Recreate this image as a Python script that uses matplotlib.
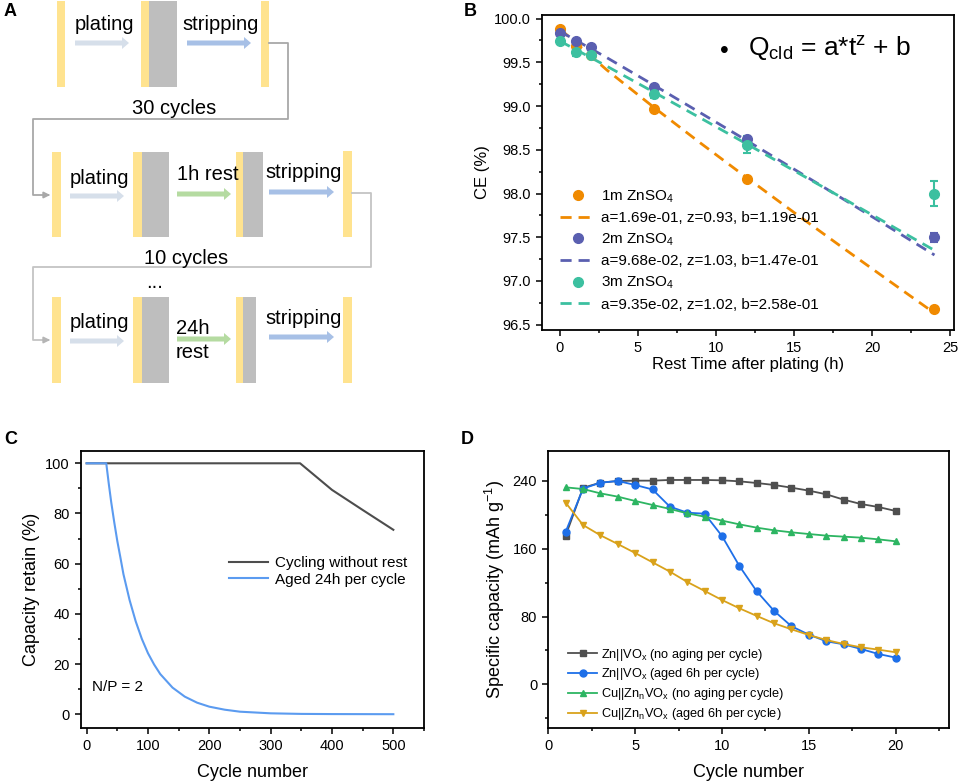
import numpy as np
import matplotlib
matplotlib.use("Agg")
from matplotlib import pyplot as plt
from matplotlib.patches import Rectangle, FancyArrow
from matplotlib.lines import Line2D
from matplotlib.ticker import MultipleLocator

plt.rcParams['font.family'] = ['Liberation Sans', 'DejaVu Sans']
plt.rcParams['mathtext.fontset'] = 'custom'
plt.rcParams['mathtext.rm'] = 'Liberation Sans'
plt.rcParams['mathtext.it'] = 'Liberation Sans'

# ---- panel B data ----
rest_t = [0, 1, 2, 6, 12, 24]
ce_1m = [99.88, 99.69, 99.58, 98.97, 98.17, 96.68]
ce_2m = [99.84, 99.74, 99.68, 99.22, 98.62, 97.50]
ce_3m = [99.74, 99.62, 99.58, 99.14, 98.56, 98.00]
err_1m = [0.02, 0.02, 0.02, 0.02, 0.02, 0.02]
err_2m = [0.02, 0.02, 0.02, 0.02, 0.03, 0.05]
err_3m = [0.02, 0.05, 0.02, 0.05, 0.10, 0.14]
fit_t = [0, 3, 6, 9, 12, 15, 18, 21, 24]
fit_1m = [99.881, 99.412, 98.987, 98.577, 98.177, 97.783, 97.396, 97.013, 96.633]
fit_2m = [99.853, 99.553, 99.240, 98.922, 98.602, 98.278, 97.953, 97.626, 97.297]
fit_3m = [99.742, 99.455, 99.160, 98.863, 98.563, 98.261, 97.959, 97.655, 97.350]
fit_labels = ['a=1.69e-01, z=0.93, b=1.19e-01',
              'a=9.68e-02, z=1.03, b=1.47e-01',
              'a=9.35e-02, z=1.02, b=2.58e-01']
conc_labels = ['1m ZnSO$_4$', '2m ZnSO$_4$', '3m ZnSO$_4$']

# ---- panel C data ----
cyc_norest = [0, 348, 375, 400, 450, 500]
cap_norest = [100, 100, 94.5, 89.4, 81.4, 73.5]
cyc_aged = [0, 32, 36, 40, 45, 50, 55, 60, 70, 80, 90, 100, 110, 120, 140, 160,
            180, 200, 225, 250, 300, 350, 400, 500]
cap_aged = [100, 100, 92, 84.6, 76.5, 69, 62.5, 55.8, 45.5, 37, 30, 24.3, 19.8,
            16, 10.6, 7, 4.6, 3.0, 1.8, 1.0, 0.35, 0.12, 0.05, 0]

# ---- panel D data ----
cycles = list(range(1, 21))
zn_noage = [175.5, 232, 238, 240, 240.4, 240.4, 241.2, 241.2, 241.2, 240.8,
            239.6, 237.6, 235.3, 232.1, 228.6, 224.3, 218, 212.8, 209.3, 204.6]
zn_aged = [180, 231, 238, 240, 235.3, 230, 209.7, 202.6, 201.4, 175,
           139.7, 109.8, 86.6, 68.5, 58.6, 50.8, 47.2, 41.7, 35.8, 31.5]
cu_noage = [232.5, 230.5, 225.4, 221.5, 216.4, 211.7, 207, 201.8, 197.9, 193.2,
            188.8, 184.9, 181.8, 179.4, 177.4, 175.5, 174.3, 173.1, 171.1, 168.8]
cu_aged = [214.4, 188, 175.9, 165.6, 155, 144, 133, 120.8, 110.2, 99.5,
           89.7, 80.7, 72, 64.9, 58.2, 52.3, 47.6, 43.7, 40.9, 37.8]
d_labels = ['Zn||VO$_x$ (no aging per cycle)', 'Zn||VO$_x$ (aged 6h per cycle)',
            'Cu||Zn$_n$VO$_x$ (no aging per cycle)', 'Cu||Zn$_n$VO$_x$ (aged 6h per cycle)']

W, H = 960, 781
fig = plt.figure(figsize=(9.6, 7.81), dpi=100)


def axbox(l, t, r, b):
    return [l / W, 1 - b / H, (r - l) / W, (b - t) / H]


def style(ax):
    for s in ax.spines.values():
        s.set_linewidth(1.3)
    ax.tick_params(which='both', direction='out', width=1.1, labelsize=10.5, top=False, right=False)
    ax.tick_params(which='major', length=4.5)
    ax.tick_params(which='minor', length=2.5)


# ================= A: schematic =================
axA = fig.add_axes([0, 0, 1, 1])
axA.set_xlim(0, W)
axA.set_ylim(H, 0)
axA.axis('off')

yel = '#FFE38F'
gry = '#BEBEBE'
c_plate = '#D6DFEA'
c_rest = '#B5DBA1'
c_strip = '#A7C0E6'
c_line = '#A8A8A8'


def electrode(x0, x1, gray_to, y0, y1):
    axA.add_patch(Rectangle((x0, y0), x1 - x0, y1 - y0, color=yel, lw=0))
    if gray_to:
        axA.add_patch(Rectangle((x1, y0), gray_to - x1, y1 - y0, color=gry, lw=0))


def arrow(x0, x1, y, c):
    axA.add_patch(FancyArrow(x0, y, x1 - x0, 0, width=5, head_width=12, head_length=7,
                             length_includes_head=True, color=c, lw=0))


fs = 14.5
# row 1
electrode(57, 65, None, 1, 87)
electrode(141, 149, 177, 1, 87)
electrode(261, 269, None, 1, 87)
arrow(75, 129, 43, c_plate)
arrow(187, 251, 43, c_strip)
axA.text(104, 25, 'plating', fontsize=fs, ha='center', va='center')
axA.text(221, 25, 'stripping', fontsize=fs, ha='center', va='center')
axA.plot([269, 288, 288, 33, 33, 46], [43, 43, 119, 119, 195, 195], color=c_line, lw=1.3)
axA.annotate('', xy=(53, 195), xytext=(44, 195),
             arrowprops=dict(arrowstyle='-|>', color=c_line, lw=1.3, mutation_scale=9))
axA.text(174, 109, '30 cycles', fontsize=fs, ha='center', va='center')

# row 2
electrode(52, 61, None, 152, 237)
electrode(133, 142, 169, 152, 237)
electrode(236, 243, 263, 152, 237)
electrode(343, 352, None, 151, 237)
arrow(70, 124, 196, c_plate)
arrow(177, 231, 194, c_rest)
arrow(269, 334, 192, c_strip)
axA.text(99, 178, 'plating', fontsize=fs, ha='center', va='center')
axA.text(208, 175, '1h rest', fontsize=fs, ha='center', va='center')
axA.text(304, 173, 'stripping', fontsize=fs, ha='center', va='center')
axA.plot([352, 371, 371, 33, 33, 46], [193, 193, 267, 267, 340, 340], color='#C4C4C4', lw=1.3)
axA.annotate('', xy=(53, 340), xytext=(44, 340),
             arrowprops=dict(arrowstyle='-|>', color='#B5B5B5', lw=1.3, mutation_scale=9))
axA.text(186, 259, '10 cycles', fontsize=fs, ha='center', va='center')

# row 3
axA.text(155, 283, '...', fontsize=fs, ha='center', va='center')
electrode(52, 61, None, 297, 383)
electrode(133, 142, 169, 297, 383)
electrode(236, 243, 256, 297, 383)
electrode(343, 352, None, 297, 383)
arrow(70, 124, 341, c_plate)
arrow(177, 231, 339, c_rest)
arrow(269, 334, 337, c_strip)
axA.text(99, 323, 'plating', fontsize=fs, ha='center', va='center')
axA.text(176, 329, '24h', fontsize=fs, ha='left', va='center')
axA.text(176, 352, 'rest', fontsize=fs, ha='left', va='center')
axA.text(304, 318, 'stripping', fontsize=fs, ha='center', va='center')

# panel letters
for lab, x, y in [('A', 4, 12), ('B', 464, 12), ('C', 4, 440), ('D', 461, 440)]:
    axA.text(x, y, lab, fontsize=13, fontweight='bold', ha='left', va='center')

# ================= B =================
axB = fig.add_axes(axbox(541.7, 15, 954, 330))
cB = ['#F08A00', '#5A5FB0', '#3CC0A0']
handles = []
for ce, er, fit, c, lab, flab in zip([ce_1m, ce_2m, ce_3m], [err_1m, err_2m, err_3m],
                                     [fit_1m, fit_2m, fit_3m], cB, conc_labels, fit_labels):
    axB.errorbar(rest_t, ce, yerr=er, fmt='o', color=c, ms=7, capsize=3, elinewidth=1.5,
                 capthick=1.5, zorder=3)
    h2, = axB.plot(fit_t, fit, '--', color=c, lw=2, dashes=(4, 2.5), label=flab, zorder=2)
    h1 = Line2D([], [], ls='none', marker='o', ms=7, color=c, label=lab)
    handles += [h1, h2]
axB.set_xlim(-1.17, 25.25)
axB.set_ylim(96.44, 100.04)
axB.xaxis.set_major_locator(MultipleLocator(5))
axB.xaxis.set_minor_locator(MultipleLocator(2.5))
axB.yaxis.set_major_locator(MultipleLocator(0.5))
axB.yaxis.set_minor_locator(MultipleLocator(0.25))
axB.yaxis.set_major_formatter(matplotlib.ticker.FormatStrFormatter('%.1f'))
style(axB)
axB.set_xlabel('Rest Time after plating (h)', fontsize=12, labelpad=1)
axB.set_ylabel('CE (%)', fontsize=12, labelpad=3)
axB.legend(handles=handles, loc='lower left', bbox_to_anchor=(0.0, 0.0), frameon=False,
           fontsize=11, handlelength=2.3, handletextpad=0.35, labelspacing=0.42,
           borderaxespad=0.8)
axB.text(0.442, 0.885, '\u2022', transform=axB.transAxes, fontsize=18, ha='center', va='center')
axB.text(0.5, 0.895, 'Q$_{\\mathrm{cld}}$ = a*t$^{\\mathrm{z}}$ + b', transform=axB.transAxes,
         fontsize=19, ha='left', va='center')

# ================= C =================
axC = fig.add_axes(axbox(81, 451, 424, 728))
axC.plot(cyc_norest, cap_norest, color='#4D4D4D', lw=1.5, label='Cycling without rest')
axC.plot(cyc_aged, cap_aged, color='#5B9BF0', lw=1.5, label='Aged 24h per cycle')
axC.set_xlim(-9.2, 550)
axC.set_ylim(-5.5, 104.9)
axC.xaxis.set_major_locator(MultipleLocator(100))
axC.xaxis.set_minor_locator(MultipleLocator(50))
axC.yaxis.set_major_locator(MultipleLocator(20))
axC.yaxis.set_minor_locator(MultipleLocator(10))
style(axC)
axC.set_xlabel('Cycle number', fontsize=13, labelpad=8)
axC.set_ylabel('Capacity retain (%)', fontsize=13, labelpad=4)
axC.legend(loc='center right', bbox_to_anchor=(0.99, 0.565), frameon=False, fontsize=11,
           handlelength=2.6, handletextpad=0.4, labelspacing=0.15)
axC.text(0.032, 0.148, 'N/P = 2', transform=axC.transAxes, fontsize=11, ha='left', va='center')

# ================= D =================
axD = fig.add_axes(axbox(548.3, 451, 949, 728))
cD = ['#4F4F4F', '#1E6FE8', '#2DB562', '#D9A21B']
mk = ['s', 'o', '^', 'v']
for ys, c, m, lab in zip([zn_noage, zn_aged, cu_noage, cu_aged], cD, mk, d_labels):
    axD.plot(cycles, ys, color=c, marker=m, ms=5, lw=1.3, label=lab)
axD.set_xlim(0, 23.07)
axD.set_ylim(-51.6, 275.4)
axD.xaxis.set_major_locator(MultipleLocator(5))
axD.xaxis.set_minor_locator(MultipleLocator(2.5))
axD.yaxis.set_major_locator(MultipleLocator(80))
axD.yaxis.set_minor_locator(MultipleLocator(40))
style(axD)
axD.set_xlabel('Cycle number', fontsize=13, labelpad=8)
axD.set_ylabel('Specific capacity (mAh g$^{-1}$)', fontsize=13, labelpad=4)
axD.legend(loc='lower left', bbox_to_anchor=(0.02, -0.02), frameon=False, fontsize=9.2,
           handlelength=2.3, handletextpad=0.3, labelspacing=0.3)

fig.savefig('out.png', dpi=100)
